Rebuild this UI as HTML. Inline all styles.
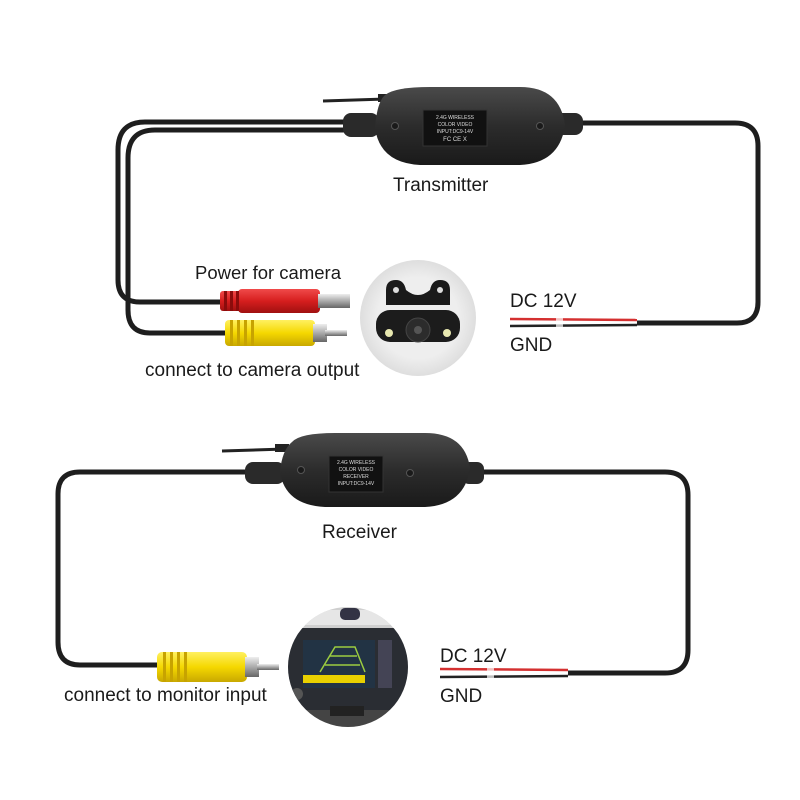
<!DOCTYPE html>
<html><head><meta charset="utf-8"><style>
html,body{margin:0;padding:0;background:#fff}
svg{display:block}
text{font-family:"Liberation Sans",sans-serif;fill:#1a1a1a}
</style></head><body>
<svg width="800" height="800" viewBox="0 0 800 800" xmlns="http://www.w3.org/2000/svg">
<defs>
<linearGradient id="bg1" x1="0" y1="0" x2="0" y2="1"><stop offset="0" stop-color="#4a4a4a"/><stop offset="0.5" stop-color="#2c2c2c"/><stop offset="1" stop-color="#1a1a1a"/></linearGradient>
<linearGradient id="red" x1="0" y1="0" x2="0" y2="1"><stop offset="0" stop-color="#f04a4a"/><stop offset="0.5" stop-color="#d61e1e"/><stop offset="1" stop-color="#a01010"/></linearGradient>
<linearGradient id="yel" x1="0" y1="0" x2="0" y2="1"><stop offset="0" stop-color="#fff060"/><stop offset="0.5" stop-color="#f5d800"/><stop offset="1" stop-color="#c8a800"/></linearGradient>
<linearGradient id="met" x1="0" y1="0" x2="0" y2="1"><stop offset="0" stop-color="#eee"/><stop offset="0.5" stop-color="#aaa"/><stop offset="1" stop-color="#666"/></linearGradient>
<radialGradient id="cg"><stop offset="0.7" stop-color="#eeeeee"/><stop offset="1" stop-color="#dedede"/></radialGradient>
<clipPath id="mc"><circle cx="348" cy="667" r="60"/></clipPath>
</defs>

<line x1="323" y1="101" x2="388" y2="99" stroke="#222" stroke-width="3"/>
<rect x="378" y="94" width="14" height="8" fill="#222"/>
<path d="M350 122 H145 Q118 122 118 150 V280 Q118 302 140 302 H225" fill="none" stroke="#1e1e1e" stroke-width="5"/>
<path d="M350 130 H155 Q128 130 128 158 V310 Q128 333 150 333 H230" fill="none" stroke="#1e1e1e" stroke-width="5"/>
<path d="M570 123 H735 Q758 123 758 146 V302 Q758 323 737 323 H637" fill="none" stroke="#1e1e1e" stroke-width="5"/>
<line x1="510" y1="319" x2="637" y2="320" stroke="#d43030" stroke-width="2.5"/>
<line x1="510" y1="326" x2="637" y2="325" stroke="#222" stroke-width="2.5"/>
<rect x="556" y="316" width="7" height="13" fill="#fff" opacity="0.7"/>
<rect x="343" y="113" width="36" height="24" rx="8" fill="#2a2a2a"/>
<rect x="553" y="113" width="30" height="22" rx="8" fill="#2a2a2a"/>
<path d="M385 95 Q395 87 430 87 H520 Q560 87 565 125 Q560 163 520 165 H420 Q380 163 375 128 Q377 102 385 95 Z" fill="url(#bg1)"/>
<circle cx="395" cy="126" r="3.5" fill="#1a1a1a" stroke="#555"/>
<circle cx="540" cy="126" r="3.5" fill="#1a1a1a" stroke="#555"/>
<rect x="423" y="110" width="64" height="36" fill="#111" stroke="#333"/>
<text x="455" y="119" font-size="5" text-anchor="middle" style="fill:#ddd">2.4G WIRELESS</text>
<text x="455" y="126" font-size="5" text-anchor="middle" style="fill:#ddd">COLOR   VIDEO</text>
<text x="455" y="133" font-size="5" text-anchor="middle" style="fill:#ddd">INPUT:DC9-14V</text>
<text x="455" y="141" font-size="6" text-anchor="middle" style="fill:#ddd">FC  CE  X</text>
<text x="393" y="191" font-size="19">Transmitter</text>

<rect x="220" y="291" width="22" height="20" rx="3" fill="url(#red)"/>
<rect x="238" y="289" width="82" height="24" rx="4" fill="url(#red)"/>
<rect x="224" y="291" width="3" height="20" fill="#8a0c0c"/><rect x="230" y="291" width="3" height="20" fill="#8a0c0c"/><rect x="236" y="291" width="3" height="20" fill="#8a0c0c"/>
<rect x="318" y="294" width="32" height="14" fill="url(#met)"/>
<rect x="225" y="320" width="90" height="26" rx="4" fill="url(#yel)"/>
<rect x="230" y="320" width="3" height="26" fill="#c7a300"/><rect x="237" y="320" width="3" height="26" fill="#c7a300"/><rect x="244" y="320" width="3" height="26" fill="#c7a300"/><rect x="251" y="320" width="3" height="26" fill="#c7a300"/>
<rect x="313" y="324" width="14" height="18" fill="url(#met)"/>
<rect x="325" y="330" width="22" height="6" fill="url(#met)"/>
<circle cx="418" cy="318" r="58" fill="url(#cg)"/>
<path d="M386 290 Q386 280 396 280 Q404 280 406 290 Q418 300 430 290 Q432 280 440 280 Q450 280 450 290 V305 H386 Z" fill="#1a1a1a"/>
<circle cx="396" cy="290" r="3" fill="#ddd"/><circle cx="440" cy="290" r="3" fill="#ddd"/>
<rect x="376" y="310" width="84" height="32" rx="14" fill="#1c1c1c"/>
<circle cx="418" cy="330" r="12" fill="#2c2c2c" stroke="#444"/>
<circle cx="418" cy="330" r="4" fill="#555"/>
<circle cx="389" cy="333" r="4" fill="#e8e8b0"/><circle cx="447" cy="333" r="4" fill="#e8e8b0"/>

<text x="195" y="279" font-size="18.5">Power for camera</text>
<text x="145" y="376" font-size="19">connect to camera output</text>
<text x="510" y="307" font-size="19">DC 12V</text>
<text x="510" y="351" font-size="19">GND</text>

<line x1="222" y1="451" x2="285" y2="449" stroke="#222" stroke-width="3"/>
<rect x="275" y="444" width="14" height="8" fill="#222"/>
<path d="M250 472 H80 Q58 472 58 494 V642 Q58 665 80 665 H160" fill="none" stroke="#1e1e1e" stroke-width="5"/>
<path d="M475 472 H665 Q688 472 688 495 V650 Q688 673 665 673 H568" fill="none" stroke="#1e1e1e" stroke-width="5"/>
<line x1="440" y1="669" x2="568" y2="670" stroke="#d43030" stroke-width="2.5"/>
<line x1="440" y1="677" x2="568" y2="676" stroke="#222" stroke-width="2.5"/>
<rect x="487" y="666" width="7" height="13" fill="#fff" opacity="0.7"/>
<rect x="245" y="462" width="40" height="22" rx="8" fill="#2a2a2a"/>
<rect x="462" y="462" width="22" height="22" rx="7" fill="#2a2a2a"/>
<path d="M292 442 Q300 433 335 433 H425 Q465 433 470 468 Q465 505 425 507 H325 Q285 505 280 472 Q282 450 292 442 Z" fill="url(#bg1)"/>
<circle cx="301" cy="470" r="3.5" fill="#1a1a1a" stroke="#555"/>
<circle cx="410" cy="473" r="3.5" fill="#1a1a1a" stroke="#555"/>
<rect x="329" y="456" width="54" height="36" fill="#111" stroke="#333"/>
<text x="356" y="464" font-size="5" text-anchor="middle" style="fill:#ddd">2.4G WIRELESS</text>
<text x="356" y="471" font-size="5" text-anchor="middle" style="fill:#ddd">COLOR  VIDEO</text>
<text x="356" y="478" font-size="5" text-anchor="middle" style="fill:#ddd">RECEIVER</text>
<text x="356" y="485" font-size="5" text-anchor="middle" style="fill:#ddd">INPUT:DC9-14V</text>
<text x="322" y="538" font-size="19">Receiver</text>

<rect x="157" y="652" width="90" height="30" rx="5" fill="url(#yel)"/>
<rect x="163" y="652" width="3" height="30" fill="#c7a300"/><rect x="170" y="652" width="3" height="30" fill="#c7a300"/><rect x="177" y="652" width="3" height="30" fill="#c7a300"/><rect x="184" y="652" width="3" height="30" fill="#c7a300"/>
<rect x="245" y="657" width="14" height="20" fill="url(#met)"/>
<rect x="257" y="664" width="22" height="6" fill="url(#met)"/>
<text x="64" y="701" font-size="19">connect to monitor input</text>

<circle cx="348" cy="667" r="60" fill="#cfcfcf"/>
<g clip-path="url(#mc)">
<rect x="280" y="610" width="140" height="15" fill="#e6e6e6"/>
<rect x="280" y="628" width="140" height="82" fill="#2a2d33"/>
<rect x="303" y="640" width="72" height="48" fill="#223344"/>
<rect x="303" y="675" width="62" height="8" fill="#e8d000"/>
<path d="M320 672 L335 647 H355 L365 672" fill="none" stroke="#9ccc40" stroke-width="1.5"/>
<path d="M325 665 H360 M330 656 H357" stroke="#9ccc40" stroke-width="1.5"/>
<rect x="378" y="640" width="14" height="48" fill="#445"/>
<circle cx="297" cy="694" r="6" fill="#555"/>
<rect x="280" y="710" width="140" height="20" fill="#444"/>
</g>
<rect x="340" y="608" width="20" height="12" rx="5" fill="#334"/>
<rect x="330" y="706" width="34" height="10" fill="#222"/>
<text x="440" y="662" font-size="19">DC 12V</text>
<text x="440" y="702" font-size="19">GND</text>
</svg>
</body></html>
